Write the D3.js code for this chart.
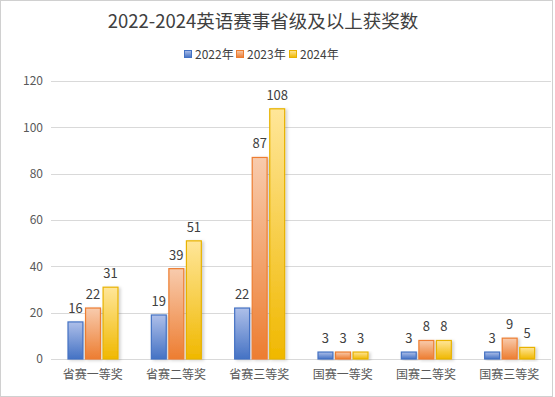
<!DOCTYPE html>
<html>
<head>
<meta charset="utf-8">
<script src="https://cdn.jsdelivr.net/npm/d3@7"></script>
<style>
  body { margin: 0; background: #fff; }
  svg { display: block; font-family: "Noto Sans CJK SC", "Open Sans", sans-serif; }
</style>
</head>
<body>
<div id="chart"></div>
<script>
var categories = ["省赛一等奖", "省赛二等奖", "省赛三等奖", "国赛一等奖", "国赛二等奖", "国赛三等奖"];
var years = ["2022年", "2023年", "2024年"];
var values2022 = [16, 19, 22, 3, 3, 3];
var values2023 = [22, 39, 87, 3, 8, 9];
var values2024 = [31, 51, 108, 3, 8, 5];
var yTicks = [0, 20, 40, 60, 80, 100, 120];

var width = 555, height = 397;
var series = [values2022, values2023, values2024];
// colours: top of gradient, bottom of gradient, outline
var colours = [
  ["#aebfe9", "#4472c4", "#4472c4"],
  ["#f8cbad", "#ed7d31", "#ed7d31"],
  ["#ffe699", "#f0b800", "#e8b200"]
];

var svg = d3.select("#chart").append("svg")
  .attr("width", width)
  .attr("height", height);

var defs = svg.append("defs");
colours.forEach(function (c, i) {
  var g = defs.append("linearGradient")
    .attr("id", "grad" + i)
    .attr("x1", "0%").attr("y1", "0%")
    .attr("x2", "0%").attr("y2", "100%");
  g.append("stop").attr("offset", "0%").attr("stop-color", c[0]);
  g.append("stop").attr("offset", "100%").attr("stop-color", c[1]);
});
var shadow = defs.append("filter").attr("id", "shadow")
  .attr("x", "-30%").attr("y", "-10%").attr("width", "180%").attr("height", "130%");
shadow.append("feDropShadow")
  .attr("dx", 2).attr("dy", 1).attr("stdDeviation", 1.6)
  .attr("flood-color", "#000").attr("flood-opacity", 0.18);

// outer frame
svg.append("rect")
  .attr("x", 0.5).attr("y", 0.5)
  .attr("width", width - 3).attr("height", height - 1)
  .attr("fill", "#fff").attr("stroke", "#d0d0d0");

var x0 = d3.scaleBand().domain(categories).range([51, 551]);
var x1 = d3.scaleBand().domain(d3.range(3)).range([17, 67]).paddingInner(0.15);
var y = d3.scaleLinear().domain([0, 120]).range([359, 81]);

// grid lines
svg.append("g").selectAll("line")
  .data(yTicks)
  .join("line")
  .attr("x1", 51).attr("x2", 551)
  .attr("y1", function (d) { return Math.round(y(d)) + 0.5; })
  .attr("y2", function (d) { return Math.round(y(d)) + 0.5; })
  .attr("stroke", "#d9d9d9");

// y tick labels
svg.append("g").selectAll("text")
  .data(yTicks)
  .join("text")
  .attr("x", 43)
  .attr("y", function (d) { return y(d); })
  .attr("dy", "0.35em")
  .attr("text-anchor", "end")
  .attr("font-size", 12)
  .attr("fill", "#595959")
  .text(function (d) { return d; });

// x labels
svg.append("g").selectAll("text")
  .data(categories)
  .join("text")
  .attr("x", function (d) { return x0(d) + x0.bandwidth() / 2; })
  .attr("y", 379)
  .attr("text-anchor", "middle")
  .attr("font-size", 12)
  .attr("fill", "#595959")
  .text(function (d) { return d; });

// bars
series.forEach(function (vals, s) {
  var g = svg.append("g");
  g.selectAll("rect")
    .data(vals)
    .join("rect")
    .attr("x", function (d, i) { return x0(categories[i]) + x1(s); })
    .attr("y", function (d) { return y(d); })
    .attr("width", x1.bandwidth())
    .attr("height", function (d) { return y(0) - y(d); })
    .attr("fill", "url(#grad" + s + ")")
    .attr("stroke", colours[s][2])
    .attr("stroke-width", 1.2)
    .attr("filter", "url(#shadow)");
  g.selectAll("text")
    .data(vals)
    .join("text")
    .attr("x", function (d, i) { return x0(categories[i]) + x1(s) + x1.bandwidth() / 2; })
    .attr("y", function (d) { return y(d) - 9; })
    .attr("text-anchor", "middle")
    .attr("font-size", 13)
    .attr("fill", "#404040")
    .text(function (d) { return d; });
});

// title
svg.append("text")
  .attr("x", 263)
  .attr("y", 28)
  .attr("text-anchor", "middle")
  .attr("font-size", 18.5)
  .attr("fill", "#404040")
  .text("2022-2024英语赛事省级及以上获奖数");

// legend
var legend = svg.append("g").attr("transform", "translate(184,55)");
var legendX = [0, 52, 105];
years.forEach(function (yr, i) {
  legend.append("rect")
    .attr("x", legendX[i] + 0.5).attr("y", -4.5)
    .attr("width", 7).attr("height", 7)
    .attr("fill", "url(#grad" + i + ")")
    .attr("stroke", colours[i][2]);
  legend.append("text")
    .attr("x", legendX[i] + 11)
    .attr("y", 0)
    .attr("dy", "0.35em")
    .attr("font-size", 12)
    .attr("fill", "#404040")
    .text(yr);
});
</script>
</body>
</html>
